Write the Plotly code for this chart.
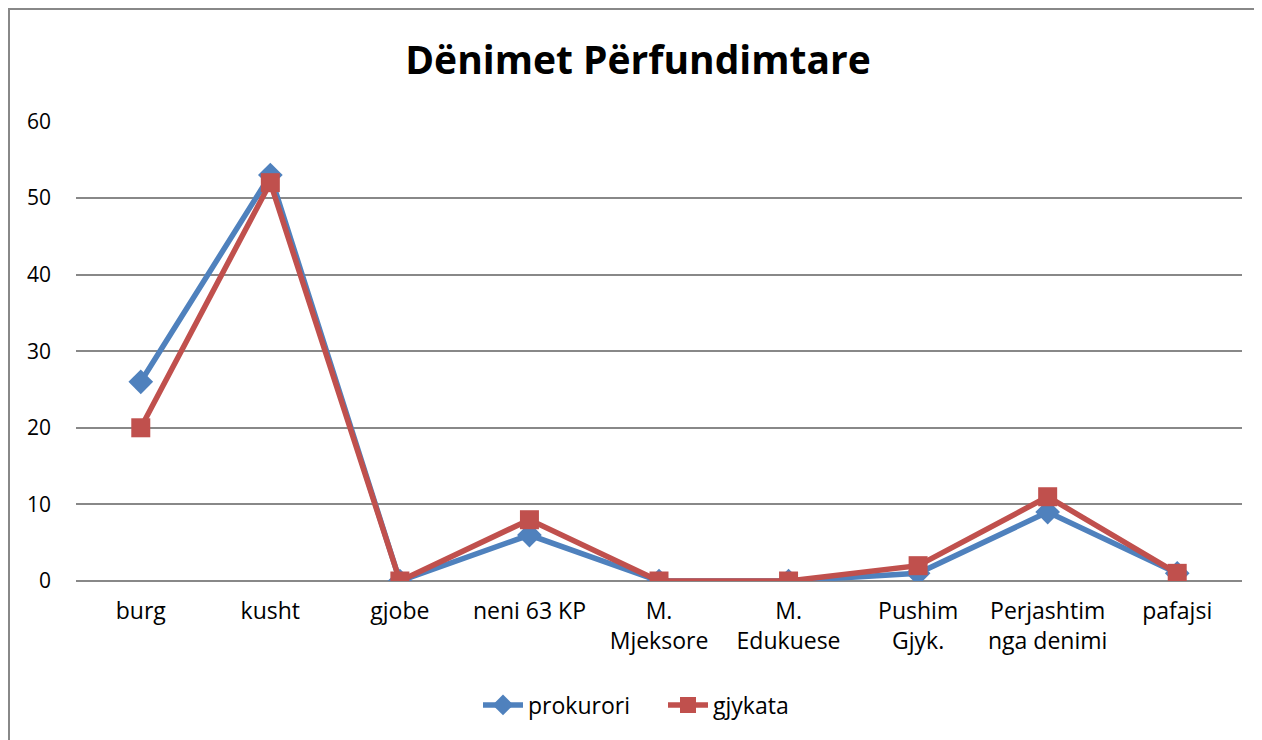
import plotly.graph_objects as go

categories = ["burg", "kusht", "gjobe", "neni 63 KP", "M.<br>Mjeksore", "M.<br>Edukuese",
              "Pushim<br>Gjyk.", "Perjashtim<br>nga denimi", "pafajsi"]
prokurori = [26, 53, 0, 6, 0, 0, 1, 9, 1]
gjykata = [20, 52, 0, 8, 0, 0, 2, 11, 1]
y_ticks = [0, 10, 20, 30, 40, 50, 60]

FONT = "Open Sans"
BLUE = "#4F81BD"
RED = "#C0504D"
GRID = "#888888"

fig = go.Figure()
fig.add_trace(go.Scatter(x=categories, y=prokurori, name="prokurori", mode="lines+markers",
                         line=dict(color=BLUE, width=5.5),
                         marker=dict(symbol="diamond", size=19, color=BLUE)))
fig.add_trace(go.Scatter(x=categories, y=gjykata, name="gjykata", mode="lines+markers",
                         line=dict(color=RED, width=5.5),
                         marker=dict(symbol="square", size=19, color=RED)))

OFF = 8  # page body offset
W, H = 1262, 740
L = 76 - OFF
T = 121 - OFF
R = W - (1242 - OFF)
B = H - (581 - OFF)
pw, ph = W - L - R, H - T - B

fig.update_layout(
    width=W, height=H,
    margin=dict(l=L, r=R, t=T, b=B),
    paper_bgcolor="white", plot_bgcolor="white",
    font=dict(family=FONT, size=22, color="#000000"),
    title=dict(text="<b>Dënimet Përfundimtare</b>", x=(638 - OFF) / W, xanchor="center",
               y=1 - (60 - OFF) / H, yanchor="middle", font=dict(size=39, family=FONT)),
    showlegend=True,
    legend=dict(orientation="h", x=(663 - OFF) / W, xref="container", xanchor="center",
                y=1 - (705 - OFF) / H, yref="container", yanchor="middle",
                font=dict(size=23), itemwidth=40, entrywidth=130),
    xaxis=dict(type="category", range=[-0.5, 8.5], showgrid=False, showline=False, ticks="",
               ticklabelstandoff=14, tickfont=dict(size=23)),
    yaxis=dict(range=[0, 60.05], tickvals=y_ticks, showgrid=True, gridcolor=GRID, gridwidth=1.5,
               zeroline=True, zerolinecolor=GRID, zerolinewidth=1.5,
               showline=False, ticks="", ticklabelstandoff=24, tickfont=dict(size=21)),
)

fig.add_shape(type="rect", xref="paper", yref="paper",
              x0=(1 - L) / pw, x1=(W + 10 - L) / pw,
              y0=(H - B - (H + 10)) / ph, y1=(H - B - 1) / ph,
              line=dict(color=GRID, width=2), fillcolor="rgba(0,0,0,0)", layer="below")

fig.write_html("out.html")
